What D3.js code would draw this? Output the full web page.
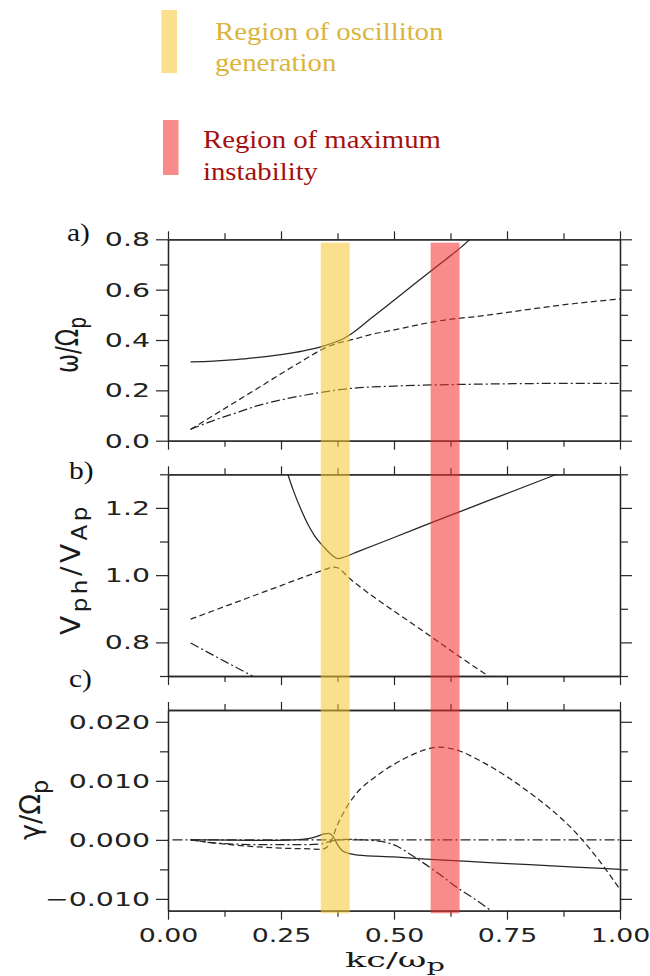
<!DOCTYPE html>
<html>
<head>
<meta charset="utf-8">
<script src="https://cdn.jsdelivr.net/npm/d3@7"></script>
<style>
  body { margin: 0; background: #fff; }
  svg { display: block; }
</style>
</head>
<body>
<div id="chart"></div>
<script>
// x axis (kc/wp), shared by the three panels
var kMajor = [0, 0.25, 0.5, 0.75, 1],
    kMinor = [0.125, 0.375, 0.625, 0.875],
    kLabels = ["0.00", "0.25", "0.50", "0.75", "1.00"];

// shaded regions, in kc/wp
var bandOsc = [0.338, 0.402],
    bandMax = [0.581, 0.645];

// a) omega / Omega_p
var aMajor = [0, 0.2, 0.4, 0.6, 0.8],
    aMinor = [0.1, 0.3, 0.5, 0.7],
    aLabels = ["0.0", "0.2", "0.4", "0.6", "0.8"];
var aSolidK = [0.05, 0.10, 0.15, 0.20, 0.25, 0.30, 0.34, 0.37, 0.39, 0.41, 0.45, 0.50, 0.55, 0.60, 0.65, 0.668],
    aSolidV = [0.313, 0.316, 0.322, 0.331, 0.342, 0.357, 0.374, 0.392, 0.407, 0.43, 0.487, 0.558, 0.629, 0.70, 0.771, 0.80];
var aDashK = [0.05, 0.10, 0.15, 0.20, 0.25, 0.30, 0.34, 0.36, 0.38, 0.40, 0.45, 0.50, 0.60, 0.70, 0.80, 0.90, 1.00],
    aDashV = [0.045, 0.10, 0.155, 0.21, 0.266, 0.32, 0.362, 0.378, 0.39, 0.398, 0.422, 0.44, 0.476, 0.497, 0.522, 0.545, 0.563];
var aDotK = [0.05, 0.10, 0.15, 0.20, 0.25, 0.30, 0.35, 0.40, 0.50, 0.60, 0.70, 0.80, 0.90, 1.00],
    aDotV = [0.045, 0.08, 0.11, 0.14, 0.162, 0.18, 0.195, 0.207, 0.217, 0.222, 0.225, 0.227, 0.228, 0.228];

// b) V_ph / V_Ap
var bMajor = [0.8, 1.0, 1.2],
    bMinor = [0.7, 0.9, 1.1, 1.3],
    bLabels = ["0.8", "1.0", "1.2"];
var bSolidK = [0.265, 0.277, 0.296, 0.31, 0.323, 0.337, 0.351, 0.365, 0.376, 0.39, 0.42, 0.50, 0.60, 0.70, 0.80, 0.86],
    bSolidV = [1.30, 1.253, 1.19, 1.15, 1.12, 1.095, 1.075, 1.057, 1.049, 1.054, 1.07, 1.112, 1.165, 1.217, 1.269, 1.30];
var bDashK = [0.05, 0.10, 0.15, 0.20, 0.25, 0.30, 0.35, 0.365, 0.375, 0.40, 0.45, 0.50, 0.55, 0.60, 0.65, 0.709],
    bDashV = [0.869, 0.894, 0.919, 0.944, 0.969, 0.994, 1.018, 1.024, 1.022, 0.992, 0.94, 0.893, 0.847, 0.80, 0.753, 0.70];
var bDotK = [0.05, 0.10, 0.15, 0.187],
    bDotV = [0.798, 0.762, 0.726, 0.70];

// c) gamma / Omega_p
var cMajor = [-0.01, 0, 0.01, 0.02],
    cMinor = [-0.005, 0.005, 0.015],
    cLabels = ["\u22120.010", "0.000", "0.010", "0.020"];
var cSolidK = [0.05, 0.10, 0.20, 0.28, 0.31, 0.33, 0.345, 0.355, 0.365, 0.375, 0.385, 0.40, 0.42, 0.50, 0.60, 0.70, 0.80, 0.90, 1.00],
    cSolidV = [0, 0, -0.0001, 0, 0.0002, 0.0006, 0.001, 0.0011, 0.0006, -0.0008, -0.0018, -0.0023, -0.0026, -0.0029, -0.0034, -0.0038, -0.0042, -0.0046, -0.005];
var cDashK = [0.05, 0.10, 0.15, 0.20, 0.25, 0.30, 0.34, 0.352, 0.362, 0.373, 0.392, 0.417, 0.454, 0.50, 0.54, 0.57, 0.60, 0.639, 0.70, 0.75, 0.80, 0.85, 0.90, 0.95, 1.00],
    cDashV = [0, -0.0005, -0.0009, -0.0012, -0.0014, -0.0015, -0.0016, -0.0012, 0, 0.0022, 0.0051, 0.0079, 0.0104, 0.0128, 0.0144, 0.0153, 0.0157, 0.0152, 0.0130, 0.0107, 0.0080, 0.0050, 0.0014, -0.0031, -0.0084];
var cDotK = [0.05, 0.10, 0.20, 0.30, 0.34, 0.36, 0.40, 0.45, 0.48, 0.51, 0.535, 0.565, 0.60, 0.64, 0.68, 0.715],
    cDotV = [0, -0.0005, -0.0008, -0.0008, -0.0007, -0.0002, 0.0001, -0.0001, -0.0004, -0.0012, -0.0024, -0.0039, -0.0058, -0.0081, -0.0101, -0.012];
var cZeroK = [0.01, 1.0],
    cZeroV = [0, 0];

var DASH = "6,3.5", DASHDOT = "9,3,2,3";
var INK = "#262626";
var oscColor = "#f6c72e", maxColor = "#f42c2a";

var svg = d3.select("#chart").append("svg").attr("width", 650).attr("height", 976);
var x = d3.scaleLinear().domain([0, 1]).range([168, 620]);

var panels = [
  {name: "a", top: 239.3, bottom: 440.7, domain: [0, 0.8], major: aMajor, minor: aMinor, labels: aLabels,
   series: [[aSolidK, aSolidV, null], [aDashK, aDashV, DASH], [aDotK, aDotV, DASHDOT]]},
  {name: "b", top: 474.3, bottom: 676, domain: [0.7, 1.3], major: bMajor, minor: bMinor, labels: bLabels,
   series: [[bSolidK, bSolidV, null], [bDashK, bDashV, DASH], [bDotK, bDotV, DASHDOT]]},
  {name: "c", top: 710, bottom: 910.7, domain: [-0.012, 0.022], major: cMajor, minor: cMinor, labels: cLabels,
   series: [[cZeroK, cZeroV, "10,3,2,3"], [cSolidK, cSolidV, null], [cDashK, cDashV, DASH], [cDotK, cDotV, DASHDOT]]}
];

function axis(gen, scale, values, size, fmt, tr) {
  var a = gen(scale).tickValues(values).tickSize(size).tickSizeOuter(0).tickFormat(fmt || "");
  var g = svg.append("g").attr("transform", tr).call(a)
    .attr("font-family", "DejaVu Sans").attr("font-size", 20);
  g.select(".domain").attr("stroke", INK).attr("stroke-width", 1.3);
  g.selectAll(".tick line").attr("stroke", INK).attr("stroke-width", 1.2);
  return g;
}

var SX = 1.42, SXB = 1.34; // the original glyphs are very wide

panels.forEach(function(p, idx) {
  var y = d3.scaleLinear().domain(p.domain).range([p.bottom, p.top]);
  var clipId = "clip-" + p.name;
  svg.append("clipPath").attr("id", clipId).append("rect")
    .attr("x", x(0)).attr("y", p.top).attr("width", x(1) - x(0)).attr("height", p.bottom - p.top);

  var line = d3.line().x(function(d) { return x(d[0]); }).y(function(d) { return y(d[1]); })
    .curve(d3.curveMonotoneX);
  p.series.forEach(function(s) {
    svg.append("path")
      .datum(d3.zip(s[0], s[1]))
      .attr("d", line)
      .attr("clip-path", "url(#" + clipId + ")")
      .attr("fill", "none")
      .attr("stroke", INK)
      .attr("stroke-width", 1.25)
      .attr("stroke-dasharray", s[2]);
  });

  // y axes, left with labels, right without
  var left = axis(d3.axisLeft, y, p.major, 12, function(d, i) { return p.labels[i]; }, "translate(" + x(0) + ",0)");
  left.selectAll("text").attr("fill", "#222").attr("x", -18 / SX).attr("transform", "scale(" + SX + ",1)");
  axis(d3.axisLeft, y, p.minor, 8, "", "translate(" + x(0) + ",0)");
  axis(d3.axisRight, y, p.major, 12, "", "translate(" + x(1) + ",0)");
  axis(d3.axisRight, y, p.minor, 8, "", "translate(" + x(1) + ",0)");

  // x axes on top and bottom
  axis(d3.axisTop, x, kMajor, 8, "", "translate(0," + p.top + ")");
  axis(d3.axisTop, x, kMinor, 6, "", "translate(0," + p.top + ")");
  var last = idx === panels.length - 1;
  var bot = axis(d3.axisBottom, x, kMajor, 9, last ? function(d, i) { return kLabels[i]; } : "", "translate(0," + p.bottom + ")");
  if (last) {
    bot.selectAll("text").attr("fill", "#222").attr("y", 17).attr("transform", "scale(" + SXB + ",1)");
  }
  axis(d3.axisBottom, x, kMinor, 6, "", "translate(0," + p.bottom + ")");
});

// shaded regions over the three panels
var bandTop = panels[0].top + 3.4, bandBottom = panels[2].bottom + 2.6;
[[bandOsc, oscColor], [bandMax, maxColor]].forEach(function(b) {
  svg.append("rect")
    .attr("x", x(b[0][0])).attr("width", x(b[0][1]) - x(b[0][0]))
    .attr("y", bandTop).attr("height", bandBottom - bandTop)
    .attr("fill", b[1]).attr("fill-opacity", 0.55);
});

// panel letters
[["a)", 67, 241], ["b)", 69, 479], ["c)", 69, 687]].forEach(function(t) {
  svg.append("text")
    .attr("transform", "translate(" + t[1] + "," + t[2] + ") scale(1.18,1)")
    .attr("font-family", "Liberation Serif").attr("font-size", 25).attr("fill", "#111")
    .text(t[0]);
});

// axis titles: stretched along the text to a target length, and thickened across it
function title(cx, cy, rot, parts, size, family, targetLen, thick, subShift, spacing) {
  var t = svg.append("text")
    .attr("text-anchor", "middle")
    .attr("letter-spacing", spacing || 0)
    .attr("font-family", family).attr("font-size", size).attr("fill", "#1a1a1a");
  var shift = 0;
  parts.forEach(function(pt) {
    var sub = pt[1];
    var dy = (sub ? subShift : 0) - shift;
    shift = sub ? subShift : 0;
    t.append("tspan").attr("dy", dy).attr("font-size", sub ? size * 0.82 : size).text(pt[0]);
  });
  var len = t.node().getComputedTextLength();
  t.attr("transform", "translate(" + cx + "," + cy + ") rotate(" + rot + ") scale(" + (targetLen / len) + "," + thick + ")");
  return t;
}
title(78, 345, -90, [["\u03c9/\u03a9", false], ["p", true]], 24, "DejaVu Sans", 56, 1.3, 6);
title(80, 569, -90, [["V", false], ["ph", true], ["/V", false], ["Ap", true]], 24, "DejaVu Sans", 132, 1.1, 6, 3);
title(40, 810, -90, [["\u03b3/\u03a9", false], ["p", true]], 22, "DejaVu Sans", 60, 1.25, 6);
title(395, 967, 0, [["kc/\u03c9", false], ["p", true]], 20, "DejaVu Serif", 100, 1, 4);

// legend
var legend = [
  [oscColor, 161.5, 10, 63, "#dbb43c", 215, ["Region of oscilliton", "generation"], 39.5, 71],
  [maxColor, 163, 120, 55, "#a3100f", 203, ["Region of maximum", "instability"], 148, 180]
];
legend.forEach(function(l) {
  svg.append("rect").attr("x", l[1]).attr("y", l[2]).attr("width", 15.5).attr("height", l[3])
    .attr("fill", l[0]).attr("fill-opacity", 0.55);
  l[6].forEach(function(s, i) {
    svg.append("text")
      .attr("transform", "translate(" + l[5] + "," + (i ? l[8] : l[7]) + ") scale(1.15,1)")
      .attr("font-family", "Liberation Serif").attr("font-size", 25).attr("fill", l[4])
      .text(s);
  });
});
</script>
</body>
</html>
